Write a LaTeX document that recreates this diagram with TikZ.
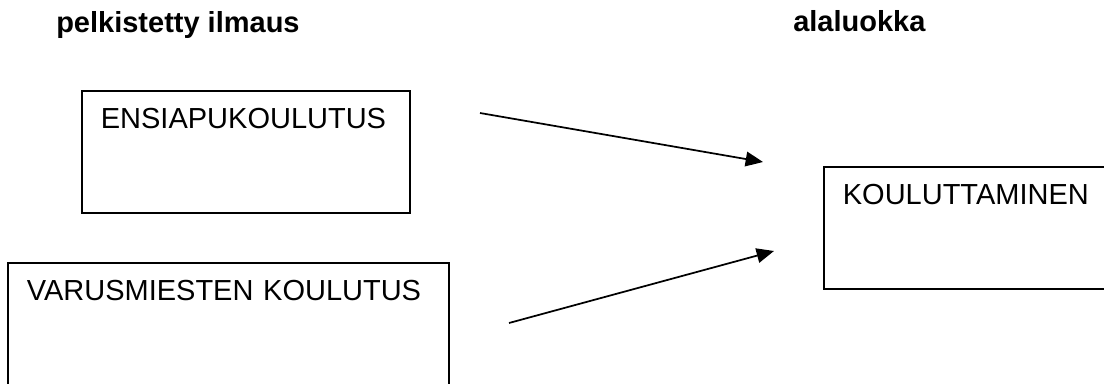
\documentclass[tikz,border=0pt]{standalone}
\usepackage{fontspec}
\setmainfont{Liberation Sans}
\usetikzlibrary{arrows.meta}

\begin{document}
\begin{tikzpicture}[x=0.75pt, y=-0.75pt,
  every node/.style={font=\fontsize{21.75}{26}\selectfont},
  heading/.style={font=\fontsize{21.75}{26}\selectfont\bfseries, inner sep=0pt, anchor=base west},
  card/.style={draw, line width=1.3pt, anchor=north west, align=left,
    inner xsep=14.25pt, inner ysep=0pt, text height=28.5pt},
  link/.style={line width=1.3pt, -{Triangle[length=13pt, width=11pt]}}
]
  % page frame
  \useasboundingbox (0,0) rectangle (1104,383);

  % column headings
  \node[heading] (hdA) at (56,32) {pelkistetty ilmaus};
  \node[heading] (hdB) at (793,31) {alaluokka};

  % concept boxes
  \node[card, text width=217.5pt, text depth=63pt] (first) at (81,90) {ENSIAPUKOULUTUS};
  \node[card, text width=302.25pt, text depth=78pt] (second) at (7,262) {VARUSMIESTEN KOULUTUS};
  \node[card, text width=219pt, text depth=63pt] (target) at (823,166) {KOULUTTAMINEN};

  % arrow end points
  \coordinate (a1s) at (480,113);
  \coordinate (a1e) at (763,162);
  \coordinate (a2s) at (509,323);
  \coordinate (a2e) at (774,251);

  \draw[link] (a1s) -- (a1e);
  \draw[link] (a2s) -- (a2e);
\end{tikzpicture}
\end{document}
